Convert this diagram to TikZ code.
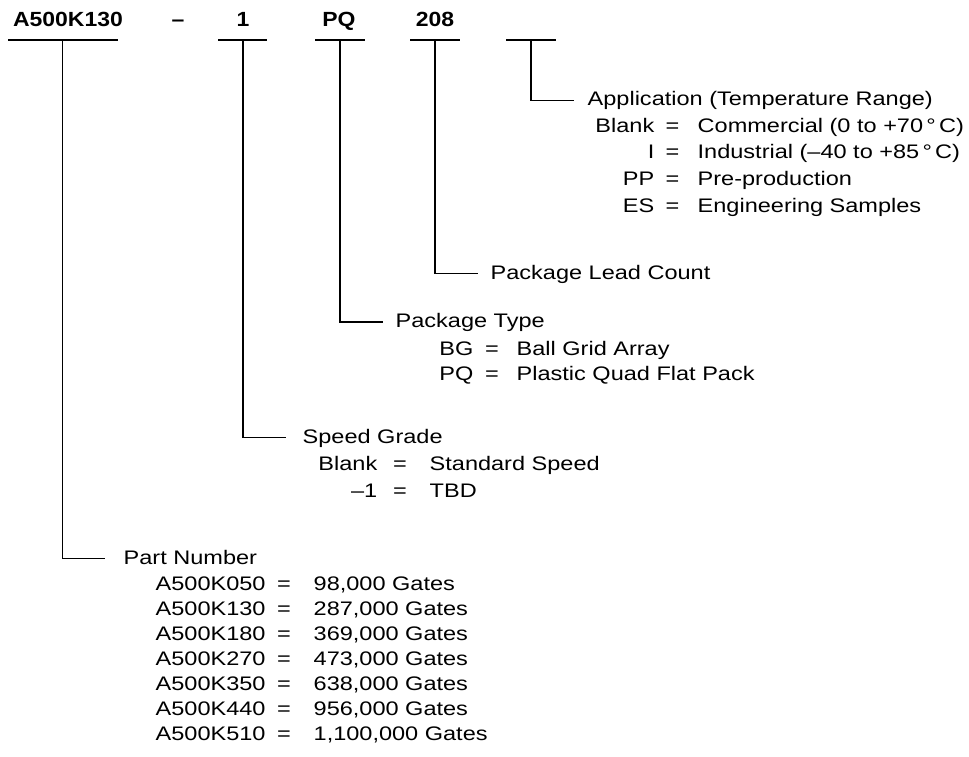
\documentclass[tikz,border=0pt]{standalone}
\usepackage{fontspec}
\setmainfont[FakeStretch=1.2]{Liberation Sans}
\newfontfamily\topfont[FakeStretch=1.12]{Liberation Sans}
\begin{document}
\begin{tikzpicture}[x=1pt,y=-1pt,line width=1.4pt,
  txt/.style={inner sep=0pt,font=\fontsize{19.6}{24}\selectfont},
  lw/.style={txt,anchor=base west},
  le/.style={txt,anchor=base east},
  lc/.style={txt,anchor=base},
  hd/.style={inner sep=0pt,anchor=base,font=\topfont\bfseries\fontsize{20.5}{24}\selectfont}]
\useasboundingbox (0,0) rectangle (969,757);

% top code
\node[hd] (tpart)  at (68,27)  {A500K130};
\node[hd] (tdash)  at (178,27) {–};
\node[hd] (tspeed) at (243,27) {1};
\node[hd] (tpkg)   at (339,27) {PQ};
\node[hd] (tlead)  at (435,27) {208};

% bars
\coordinate (p1) at (62.7,40);
\coordinate (p2) at (243,40);
\coordinate (p3) at (340,40);
\coordinate (p4) at (435,40);
\coordinate (p5) at (531,40);
\draw (8,40) -- (118,40);
\draw (218,40) -- (267,40);
\draw (315,40) -- (365,40);
\draw (410,40) -- (460,40);
\draw (506,40) -- (556,40);

% leader end points
\coordinate (e1) at (105,558.7);
\coordinate (e2) at (286,437.5);
\coordinate (e3) at (383,322);
\coordinate (e4) at (478,273.3);
\coordinate (e5) at (574,100.7);
\draw (p1) |- (e1);
\draw (p2) |- (e2);
\draw (p3) |- (e3);
\draw (p4) |- (e4);
\draw (p5) |- (e5);

% Application
\node[lw] (app) at (587,106) {Application (Temperature Range)};
\node[le] (a1k) at (655,132.5) {Blank};
\node[le] (a2k) at (655,159) {I};
\node[le] (a3k) at (655,185.5) {PP};
\node[le] (a4k) at (655,212) {ES};
\foreach \y in {132.5,159,185.5,212} \node[lc] at (672.5,\y) {=};
\node[lw] (a1v) at (697,132.5) {Commercial (0 to +70\,°\,C)};
\node[lw] (a2v) at (697,159) {Industrial (–40 to +85\,°\,C)};
\node[lw] (a3v) at (697,185.5) {Pre-production};
\node[lw] (a4v) at (697,212) {Engineering Samples};

% Lead count
\node[lw] (lead) at (490,279) {Package Lead Count};

% Package type
\node[lw] (ptype) at (395,327) {Package Type};
\node[le] (t1k) at (474,355) {BG};
\node[le] (t2k) at (474,380) {PQ};
\node[lc] at (492,355) {=};
\node[lc] at (492,380) {=};
\node[lw] (t1v) at (516,355) {Ball Grid Array};
\node[lw] (t2v) at (516,380) {Plastic Quad Flat Pack};

% Speed grade
\node[lw] (speed) at (302,443) {Speed Grade};
\node[le] (s1k) at (378,470) {Blank};
\node[le] (s2k) at (378,497) {–1};
\node[lc] at (400,470) {=};
\node[lc] at (400,497) {=};
\node[lw] (s1v) at (429,470) {Standard Speed};
\node[lw] (s2v) at (429,497) {TBD};

% Part number
\node[lw] (pn) at (123,564) {Part Number};
\foreach \k/\v [count=\i] in {A500K050/98{,}000,A500K130/287{,}000,A500K180/369{,}000,A500K270/473{,}000,A500K350/638{,}000,A500K440/956{,}000,A500K510/1{,}100{,}000}{
  \node[lw] (n\i k) at (155,565+25*\i) {\k};
  \node[lc] at (284,565+25*\i) {=};
  \node[lw] (n\i v) at (313,565+25*\i) {\v\ Gates};
}
\end{tikzpicture}
\end{document}
